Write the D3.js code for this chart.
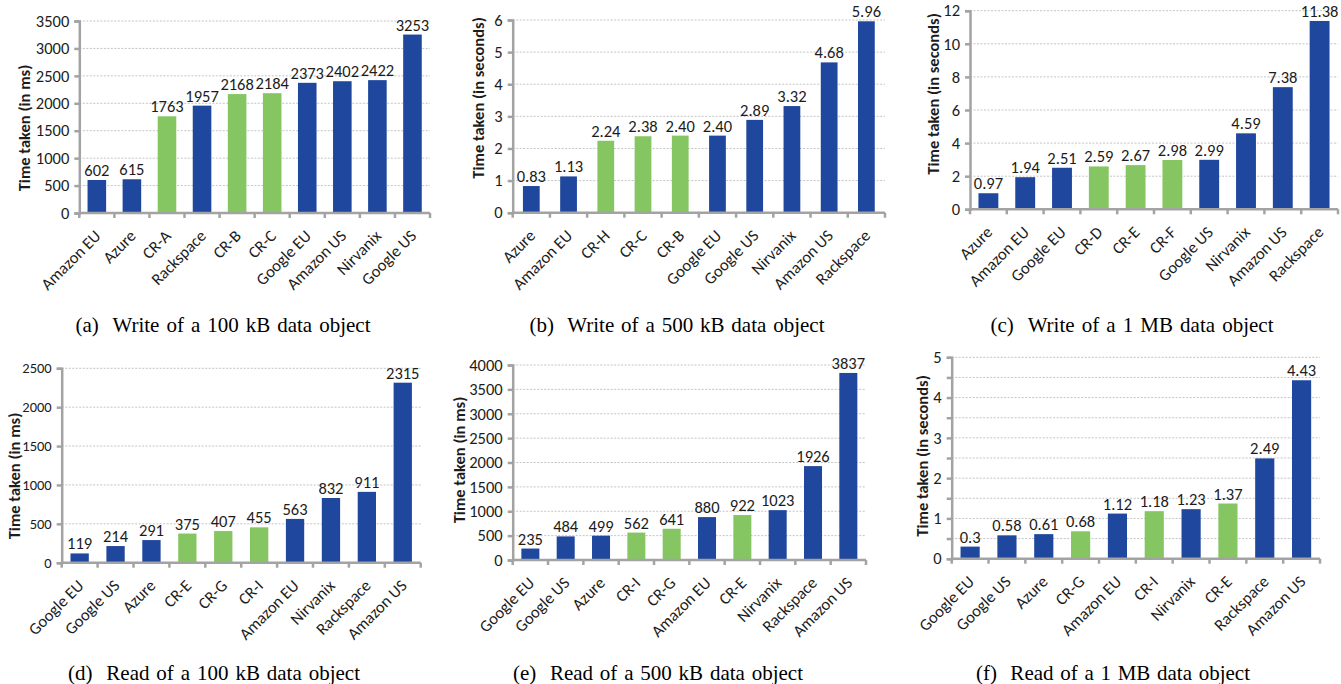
<!DOCTYPE html>
<html>
<head>
<meta charset="utf-8">
<script src="https://cdn.jsdelivr.net/npm/d3@7"></script>
<style>
  html, body { margin: 0; padding: 0; background: #fff; }
  svg { display: block; }
  .tick-text { font-family: Carlito, Lato, "Open Sans", sans-serif; font-size: 16.5px; fill: #1c1c1c; }
  .ylabel { font-family: Carlito, Lato, "Open Sans", sans-serif; font-size: 16.5px; font-weight: bold; fill: #1c1c1c; }
  .caption { font-family: "Liberation Serif", "DejaVu Serif", serif; font-size: 21px; fill: #000; }
</style>
</head>
<body>
<svg id="chart" width="1341" height="684"></svg>
<script>
// (a) write 100 kB
const writeSmallCats = ["Amazon EU", "Azure", "CR-A", "Rackspace", "CR-B", "CR-C", "Google EU", "Amazon US", "Nirvanix", "Google US"];
const writeSmallVals = [602, 615, 1763, 1957, 2168, 2184, 2373, 2402, 2422, 3253];
// (b) write 500 kB
const writeMidCats = ["Azure", "Amazon EU", "CR-H", "CR-C", "CR-B", "Google EU", "Google US", "Nirvanix", "Amazon US", "Rackspace"];
const writeMidVals = [0.83, 1.13, 2.24, 2.38, 2.40, 2.40, 2.89, 3.32, 4.68, 5.96];
// (c) write 1 MB
const writeLargeCats = ["Azure", "Amazon EU", "Google EU", "CR-D", "CR-E", "CR-F", "Google US", "Nirvanix", "Amazon US", "Rackspace"];
const writeLargeVals = [0.97, 1.94, 2.51, 2.59, 2.67, 2.98, 2.99, 4.59, 7.38, 11.38];
// (d) read 100 kB
const readSmallCats = ["Google EU", "Google US", "Azure", "CR-E", "CR-G", "CR-I", "Amazon EU", "Nirvanix", "Rackspace", "Amazon US"];
const readSmallVals = [119, 214, 291, 375, 407, 455, 563, 832, 911, 2315];
// (e) read 500 kB
const readMidCats = ["Google EU", "Google US", "Azure", "CR-I", "CR-G", "Amazon EU", "CR-E", "Nirvanix", "Rackspace", "Amazon US"];
const readMidVals = [235, 484, 499, 562, 641, 880, 922, 1023, 1926, 3837];
// (f) read 1 MB
const readLargeCats = ["Google EU", "Google US", "Azure", "CR-G", "Amazon EU", "CR-I", "Nirvanix", "CR-E", "Rackspace", "Amazon US"];
const readLargeVals = [0.3, 0.58, 0.61, 0.68, 1.12, 1.18, 1.23, 1.37, 2.49, 4.43];

const captions = [
  "(a)  Write of a 100 kB data object",
  "(b)  Write of a 500 kB data object",
  "(c)  Write of a 1 MB data object",
  "(d)  Read of a 100 kB data object",
  "(e)  Read of a 500 kB data object",
  "(f)  Read of a 1 MB data object"
];
const yTitles = ["Time taken (in ms)", "Time taken (in seconds)", "Time taken (in seconds)",
                 "Time taken (in ms)", "Time taken (in ms)", "Time taken (in seconds)"];

const BLUE = "#1f479d", GREEN = "#86c662", AXIS = "#a3a3a3", GRID = "#c4c4c4";

// layout of each panel (pixel boxes)
const panels = [
  { cats: writeSmallCats, vals: writeSmallVals, max: 3500, step: 500, fmt: d3.format("d"),
    x0: 79.3, x1: 430, top: 21, base: 213, pad: 0.47, yl: [24, 128], cap: [223, 332, 295], yfs: 16.5 },
  { cats: writeMidCats, vals: writeMidVals, max: 6, step: 1, fmt: d3.format(".2f"),
    x0: 512.7, x1: 885, top: 20, base: 212.7, pad: 0.55, yl: [478, 98], cap: [677, 332, 295], yfs: 16.5 },
  { cats: writeLargeCats, vals: writeLargeVals, max: 12, step: 2, fmt: d3.format(".2f"),
    x0: 970, x1: 1338, top: 10.7, base: 209.3, pad: 0.46, yl: [933, 94], cap: [1132, 332, 283], yfs: 16.5 },
  { cats: readSmallCats, vals: readSmallVals, max: 2500, step: 500, fmt: d3.format("d"),
    x0: 61.7, x1: 420.7, top: 368.3, base: 562.7, pad: 0.49, yl: [14, 476], cap: [214, 680, 292], yfs: 14.5 },
  { cats: readMidCats, vals: readMidVals, max: 4000, step: 500, fmt: d3.format("d"),
    x0: 512.7, x1: 866, top: 365, base: 560, pad: 0.49, yl: [459, 460], cap: [658, 680, 290], yfs: 16.5 },
  { cats: readLargeCats, vals: readLargeVals, max: 5, step: 0.5, fmt: v => String(v), major: 1,
    x0: 951.7, x1: 1320, top: 357.3, base: 558.7, pad: 0.48, yl: [922, 456], cap: [1113, 680, 274], yfs: 16.5 }
];

const svg = d3.select("#chart");

panels.forEach((p, i) => {
  const g = svg.append("g");
  const data = p.cats.map((c, j) => ({ name: c, value: p.vals[j] }));

  const x = d3.scaleBand().domain(p.cats).range([p.x0, p.x1])
    .paddingInner(p.pad).paddingOuter(p.pad / 2);
  const y = d3.scaleLinear().domain([0, p.max]).range([p.base, p.top]);
  const ticks = d3.range(0, p.max + p.step / 2, p.step);

  // dotted gridlines
  g.append("g").selectAll("line").data(ticks.filter(t => t > 0)).enter()
    .append("line")
    .attr("x1", p.x0).attr("x2", p.x1)
    .attr("y1", d => y(d)).attr("y2", d => y(d))
    .attr("stroke", GRID).attr("stroke-width", 1).attr("stroke-dasharray", "2,1.5");

  // bars
  g.append("g").selectAll("rect").data(data).enter()
    .append("rect")
    .attr("x", d => x(d.name)).attr("width", x.bandwidth())
    .attr("y", d => y(d.value)).attr("height", d => y(0) - y(d.value))
    .attr("fill", d => d.name.startsWith("CR-") ? GREEN : BLUE);

  // value labels
  g.append("g").selectAll("text").data(data).enter()
    .append("text").attr("class", "tick-text")
    .attr("x", d => x(d.name) + x.bandwidth() / 2)
    .attr("y", d => y(d.value) - 4)
    .attr("text-anchor", "middle")
    .text(d => p.fmt(d.value));

  // y axis
  const yAxis = d3.axisLeft(y).tickValues(ticks).tickSize(5).tickPadding(5)
    .tickFormat(t => (p.major && Math.abs(t % p.major) > 1e-9) ? "" : d3.format("d")(t));
  const ya = g.append("g").attr("transform", `translate(${p.x0},0)`).call(yAxis);
  ya.select(".domain").attr("stroke", AXIS).attr("stroke-width", 2.5);
  ya.selectAll(".tick line").attr("stroke", AXIS).attr("stroke-width", 2.5);
  ya.selectAll(".tick text").attr("class", "tick-text").attr("fill", null)
    .attr("font-size", null).attr("font-family", null)
    .style("font-size", p.yfs + "px");

  // x axis with ticks at band boundaries
  const bandStep = x.step();
  const xa = g.append("g");
  xa.append("line").attr("x1", p.x0).attr("x2", p.x1)
    .attr("y1", p.base).attr("y2", p.base)
    .attr("stroke", AXIS).attr("stroke-width", 2.5);
  xa.selectAll("line.tk").data(d3.range(p.cats.length + 1)).enter()
    .append("line").attr("class", "tk")
    .attr("x1", k => p.x0 + k * bandStep).attr("x2", k => p.x0 + k * bandStep)
    .attr("y1", p.base).attr("y2", p.base + 5)
    .attr("stroke", AXIS).attr("stroke-width", 2.5);
  xa.selectAll("text").data(p.cats).enter()
    .append("text").attr("class", "tick-text")
    .attr("text-anchor", "end")
    .attr("transform", c => `translate(${x(c) + x.bandwidth() / 2 + 5},${p.base + 24}) rotate(-45)`)
    .text(c => c);

  // y axis title
  g.append("text").attr("class", "ylabel")
    .attr("text-anchor", "middle")
    .attr("transform", `translate(${p.yl[0] + 6},${p.yl[1]}) rotate(-90)`)
    .text(yTitles[i]);

  // caption, spread to the measured width
  const cap = g.append("text").attr("class", "caption")
    .attr("x", p.cap[0]).attr("y", p.cap[1]).attr("text-anchor", "middle")
    .attr("xml:space", "preserve")
    .text(captions[i]);
  const natural = cap.node().getComputedTextLength();
  const spaces = (captions[i].match(/ /g) || []).length;
  if (natural < p.cap[2]) cap.attr("word-spacing", (p.cap[2] - natural) / spaces);
});
</script>
</body>
</html>
